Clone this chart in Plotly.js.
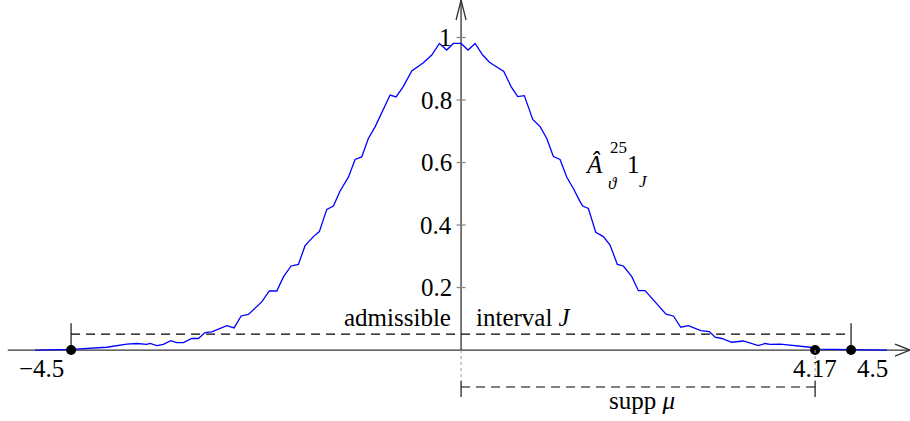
<!DOCTYPE html>
<html>
<head>
<meta charset="utf-8">
<script src="https://cdn.plot.ly/plotly-3.0.1.min.js"></script>
<style>html,body{margin:0;padding:0;background:#fff;}#chart{width:910px;height:421px;}</style>
</head>
<body>
<div id="chart"></div>
<script>
// ---- data ----
const curveX = [-4.915,-4.492,-4.088,-3.992,-3.857,-3.742,-3.627,-3.589,-3.511,-3.435,-3.350,-3.280,-3.204,-3.107,-3.031,-2.954,-2.876,-2.703,-2.619,-2.538,-2.454,-2.300,-2.212,-2.126,-2.050,-1.961,-1.877,-1.800,-1.704,-1.635,-1.550,-1.473,-1.396,-1.300,-1.223,-1.146,-1.070,-0.992,-0.897,-0.819,-0.750,-0.669,-0.569,-0.435,-0.338,-0.250,-0.165,-0.089,
  0,0.081,0.162,0.250,0.327,0.493,0.577,0.654,0.730,0.796,0.827,0.912,0.989,1.065,1.142,1.220,1.296,1.373,1.404,1.469,1.554,1.642,1.719,1.803,1.873,1.970,2.046,2.123,2.219,2.365,2.450,2.535,2.623,2.766,2.865,2.931,3.008,3.123,3.257,3.354,3.430,3.508,3.565,3.681,3.796,3.912,4.027,4.085,4.5,4.915];
const curveY = [0,0.002,0.009,0.014,0.019,0.021,0.018,0.021,0.014,0.018,0.030,0.024,0.024,0.037,0.037,0.056,0.058,0.078,0.071,0.109,0.114,0.154,0.189,0.189,0.234,0.269,0.274,0.334,0.363,0.379,0.450,0.461,0.509,0.553,0.610,0.618,0.677,0.714,0.768,0.816,0.810,0.842,0.893,0.919,0.944,0.981,0.960,0.981,
  0.981,0.960,0.981,0.944,0.921,0.891,0.843,0.811,0.814,0.766,0.738,0.715,0.677,0.619,0.610,0.553,0.517,0.475,0.461,0.453,0.377,0.363,0.336,0.274,0.269,0.235,0.190,0.190,0.160,0.115,0.109,0.073,0.078,0.062,0.059,0.041,0.037,0.025,0.029,0.021,0.014,0.021,0.018,0.019,0.016,0.013,0.009,0.003,0.002,0];

const yTickVals = [0.2, 0.4, 0.6, 0.8, 1];
const yTickText = ['0.2', '0.4', '0.6', '0.8', '1'];

const pointX = [-4.5, 4.085, 4.5];
const pointY = [0, 0, 0];
const pointText = ['\u22124.5', '4.17', '4.5'];

const admLeft = -4.5, admRight = 4.5;   // admissible interval J
const suppLeft = 0, suppRight = 4.085;  // supp mu

// ---- layout constants ----
const xMin = -5.32, xMax = 5.18, yMin = -0.227, yMax = 1.12;
const admY = 0.051, admTop = 0.086;
const suppY = -0.118, suppTop = -0.099, suppBot = -0.150;
const SERIF = "'Liberation Serif', 'DejaVu Serif', serif";
const FONT = {family: SERIF, size: 25, color: '#000'};
const SMALL = {family: SERIF, size: 17, color: '#000'};

const traces = [
  {x: curveX, y: curveY, type: 'scatter', mode: 'lines',
   line: {color: '#0000ff', width: 1.3}, hoverinfo: 'skip'},
  {x: pointX, y: pointY, type: 'scatter', mode: 'markers',
   marker: {color: '#000', size: 10}, hoverinfo: 'skip'}
];

const shapes = [];
const axisLine = {color: '#333', width: 1.3};
// axes
shapes.push({type: 'line', xref: 'x', yref: 'y', x0: -5.23, x1: xMax, y0: 0, y1: 0, line: axisLine, layer: 'below'});
shapes.push({type: 'line', xref: 'x', yref: 'y', x0: 0, x1: 0, y0: 0, y1: yMax, line: axisLine, layer: 'below'});
// arrow heads (open)
shapes.push({type: 'path', xref: 'x', yref: 'y', xsizemode: 'pixel', ysizemode: 'pixel',
  xanchor: xMax, yanchor: 0, path: 'M -15,6 L 0,0 L -15,-6', line: axisLine});
shapes.push({type: 'path', xref: 'x', yref: 'y', xsizemode: 'pixel', ysizemode: 'pixel',
  xanchor: 0, yanchor: yMax, path: 'M -5,-20 L 0,0 L 5,-20', line: axisLine});
// y ticks
yTickVals.forEach(v => {
  shapes.push({type: 'line', xref: 'x', yref: 'y', xsizemode: 'pixel', xanchor: 0,
    x0: -4.5, x1: 4.5, y0: v, y1: v, line: {color: '#888', width: 1.3}});
});
// admissible interval bracket
const dashLine = {color: '#000', width: 1.1, dash: '9px,6px'};
shapes.push({type: 'line', xref: 'x', yref: 'y', x0: admLeft, x1: admRight, y0: admY, y1: admY, line: dashLine, layer: 'below'});
[admLeft, admRight].forEach(xv => {
  shapes.push({type: 'line', xref: 'x', yref: 'y', x0: xv, x1: xv, y0: 0, y1: admTop, line: {color: '#000', width: 1.1}});
});
// supp bracket
shapes.push({type: 'line', xref: 'x', yref: 'y', x0: suppLeft, x1: suppRight, y0: suppY, y1: suppY, line: dashLine});
[suppLeft, suppRight].forEach(xv => {
  shapes.push({type: 'line', xref: 'x', yref: 'y', x0: xv, x1: xv, y0: suppTop, y1: suppBot, line: {color: '#000', width: 1.1}});
  shapes.push({type: 'line', xref: 'x', yref: 'y', x0: xv, x1: xv, y0: 0, y1: suppTop, line: {color: '#999', width: 1, dash: 'dot'}});
});

const annotations = [];
const ann = (o) => annotations.push(Object.assign({xref: 'x', yref: 'y', showarrow: false, font: FONT}, o));
yTickVals.forEach((v, i) => {
  ann({x: 0, y: v, text: yTickText[i], xanchor: 'right', yanchor: 'middle', xshift: -7});
});
ann({x: pointX[0], y: 0, text: pointText[0], xanchor: 'right', yanchor: 'top', xshift: -5, yshift: -3});
ann({x: pointX[1], y: 0, text: pointText[1], xanchor: 'center', yanchor: 'top', yshift: -3});
ann({x: pointX[2], y: 0, text: pointText[2], xanchor: 'left', yanchor: 'top', xshift: 4, yshift: -3});
ann({x: 0, y: admY, text: 'admissible', xanchor: 'right', yanchor: 'bottom', xshift: -8, yshift: 1});
ann({x: 0, y: admY, text: 'interval <i>J</i>', xanchor: 'left', yanchor: 'bottom', xshift: 13, yshift: 1});
ann({x: (suppLeft + suppRight) / 2, y: suppY, text: 'supp <i>\u03bc</i>', xanchor: 'center', yanchor: 'top', xshift: 4, yshift: 2});
// curve label  \hat{A}^{25}_{\vartheta} 1_J  (pieces)
ann({x: 1.535, y: 0.602, text: '<i>\u00c2</i>', xanchor: 'center', yanchor: 'middle', yshift: -3});
ann({x: 1.811, y: 0.656, text: '25', xanchor: 'center', yanchor: 'middle', font: SMALL, yshift: -2});
ann({x: 1.754, y: 0.538, text: '<i>\u03d1</i>', xanchor: 'center', yanchor: 'middle', font: SMALL, yshift: -2});
ann({x: 1.984, y: 0.602, text: '1', xanchor: 'center', yanchor: 'middle', yshift: -3});
ann({x: 2.100, y: 0.547, text: '<i>J</i>', xanchor: 'center', yanchor: 'middle', font: SMALL, yshift: -2});

const layout = {
  width: 910, height: 421,
  margin: {l: 0, r: 0, t: 0, b: 0},
  paper_bgcolor: '#fff', plot_bgcolor: '#fff',
  showlegend: false,
  font: {family: SERIF},
  xaxis: {range: [xMin, xMax], visible: false, fixedrange: true},
  yaxis: {range: [yMin, yMax], visible: false, fixedrange: true},
  shapes: shapes,
  annotations: annotations
};

Plotly.newPlot('chart', traces, layout, {staticPlot: true, displayModeBar: false});
</script>
</body>
</html>
